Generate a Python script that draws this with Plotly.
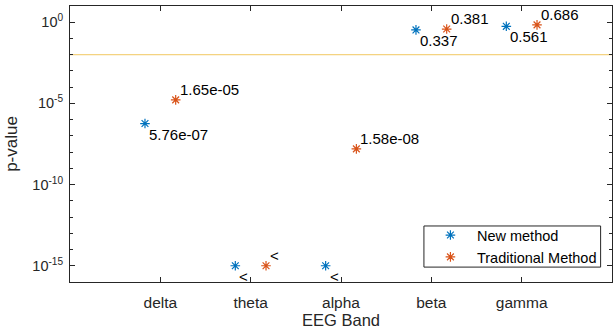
import math
import plotly.graph_objects as go

bands = ["delta", "theta", "alpha", "beta", "gamma"]
new_p = [5.76e-07, 1e-15, 1e-15, 0.337, 0.561]
new_lbl = ["5.76e-07", "<", "<", "0.337", "0.561"]
trad_p = [1.65e-05, 1e-15, 1.58e-08, 0.381, 0.686]
trad_lbl = ["1.65e-05", "<", "1.58e-08", "0.381", "0.686"]
threshold = 0.01
offset = 0.17

blue = "#0072BD"
orange = "#D95319"
font = "Liberation Sans, Arial, sans-serif"

xn = [i + 1 - offset for i in range(len(bands))]
xt = [i + 1 + offset for i in range(len(bands))]

fig = go.Figure()
fig.add_trace(go.Scatter(x=[0, 6], y=[threshold, threshold], mode="lines",
                         line=dict(color="#EDB120", width=1), opacity=0.7,
                         showlegend=False, hoverinfo="skip"))
fig.add_trace(go.Scatter(x=xn, y=new_p, mode="markers", name="New method",
                         marker=dict(symbol="asterisk-open", size=8,
                                     line=dict(color=blue, width=1.2), color=blue)))
fig.add_trace(go.Scatter(x=xt, y=trad_p, mode="markers", name="Traditional Method",
                         marker=dict(symbol="asterisk-open", size=8,
                                     line=dict(color=orange, width=1.2), color=orange)))

for x, y, t in zip(xn, new_p, new_lbl):
    fig.add_annotation(x=x, y=math.log10(y), text=t, showarrow=False, xanchor="left",
                       yanchor="top", xshift=2, yshift=0,
                       font=dict(family=font, size=15, color="black"))
for x, y, t in zip(xt, trad_p, trad_lbl):
    fig.add_annotation(x=x, y=math.log10(y), text=t, showarrow=False, xanchor="left",
                       yanchor="bottom", xshift=2, yshift=0,
                       font=dict(family=font, size=15, color="black"))

# legend frame
fig.add_shape(type="rect", xref="paper", yref="paper",
              x0=0.653, x1=0.979, y0=0.054, y1=0.203,
              line=dict(color="#262626", width=1), fillcolor="white", layer="above")

axcol = "#262626"
fig.update_layout(
    width=613, height=331,
    margin=dict(l=70, r=1, t=6, b=49, autoexpand=False),
    plot_bgcolor="white", paper_bgcolor="white",
    font=dict(family=font, size=15, color=axcol),
    legend=dict(x=0.653, y=0.13, xanchor="left", yanchor="middle",
                bgcolor="rgba(0,0,0,0)", borderwidth=0,
                font=dict(family=font, size=14.5, color="black"),
                itemwidth=43, tracegroupgap=0),
    xaxis=dict(range=[0, 6], tickvals=[1, 2, 3, 4, 5], ticktext=bands,
               ticks="inside", ticklen=5, tickcolor=axcol, showgrid=False,
               showline=True, linecolor=axcol, linewidth=1, mirror="ticks",
               zeroline=False, tickfont=dict(size=15.5), ticklabelstandoff=6,
               title=dict(text="EEG Band", font=dict(size=16.5), standoff=4)),
    yaxis=dict(type="log", range=[-16, 1],
               tickvals=[1e-15, 1e-10, 1e-5, 1],
               ticktext=["10<sup>-15</sup>", "10<sup>-10</sup>", "10<sup>-5</sup>", "10<sup>0</sup>"],
               ticks="inside", ticklen=5, tickcolor=axcol, showgrid=False,
               minor=dict(tickvals=[10.0 ** k for k in range(-16, 2)], ticks="inside",
                          ticklen=3, tickcolor=axcol),
               showline=True, linecolor=axcol, linewidth=1, mirror="ticks",
               zeroline=False, tickfont=dict(size=14.5), ticklabelstandoff=3,
               title=dict(text="p-value", font=dict(size=17), standoff=10)),
)
fig.write_html("out.html", config={"displayModeBar": False},
               post_script="document.body.style.margin='0';")
